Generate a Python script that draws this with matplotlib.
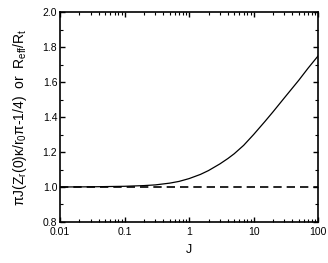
import matplotlib
matplotlib.use("Agg")
import matplotlib.pyplot as plt
from matplotlib.ticker import LogLocator, MultipleLocator, FixedFormatter, FixedLocator

plt.rcParams['font.family'] = ['Liberation Sans', 'DejaVu Sans']
plt.rcParams['mathtext.fontset'] = 'custom'
plt.rcParams['mathtext.rm'] = 'Liberation Sans'
plt.rcParams['mathtext.it'] = 'Liberation Sans'
plt.rcParams['mathtext.default'] = 'regular'

# valeurs
J = [0.01, 0.03, 0.1, 0.2, 0.3, 0.5, 0.7, 1, 1.5, 2, 3, 4, 5, 7,
     10, 15, 20, 30, 50, 70, 100]
ratio = [1.000, 1.001, 1.004, 1.008, 1.012, 1.022, 1.032, 1.048, 1.072, 1.094,
         1.132, 1.163, 1.190, 1.238, 1.300, 1.375, 1.430, 1.510, 1.610, 1.680, 1.750]
ref = 1.0

fig = plt.figure(figsize=(3.28, 2.63), dpi=100)
ax = fig.add_axes([0.183, 0.156, 0.787, 0.798])

ax.plot(J, ratio, color='black', lw=0.9)
ax.axhline(ref, color='black', lw=1.2, ls=(0, (5, 3)))

ax.set_xscale('log')
ax.set_xlim(0.01, 100)
ax.set_ylim(0.8, 2.0)
ax.xaxis.set_major_locator(FixedLocator([0.01, 0.1, 1, 10, 100]))
ax.xaxis.set_major_formatter(FixedFormatter(['0.01', '0.1', '1', '10', '100']))
ax.xaxis.set_minor_locator(LogLocator(base=10, subs=range(2, 10)))
ax.yaxis.set_major_locator(MultipleLocator(0.2))
ax.yaxis.set_minor_locator(MultipleLocator(0.1))
ax.yaxis.set_major_formatter(plt.FuncFormatter(lambda v, p: f'{v:.1f}'))

ax.tick_params(which='both', direction='in', top=True, right=True,
               labelsize=7.5, colors='black')
ax.tick_params(axis='x', pad=3.5)
ax.tick_params(axis='y', pad=2)
ax.tick_params(which='major', length=3.5, width=1)
ax.tick_params(which='minor', length=2, width=0.8)
for s in ax.spines.values():
    s.set_linewidth(1.2)

ax.set_xlabel('J', fontsize=9, labelpad=5)
ax.set_ylabel(r'πJ(Z$_r$(0)κ/r$_0$π-1/4)  or  R$_{eff}$/R$_t$', fontsize=10, labelpad=10)

fig.savefig('out.png', dpi=100)
